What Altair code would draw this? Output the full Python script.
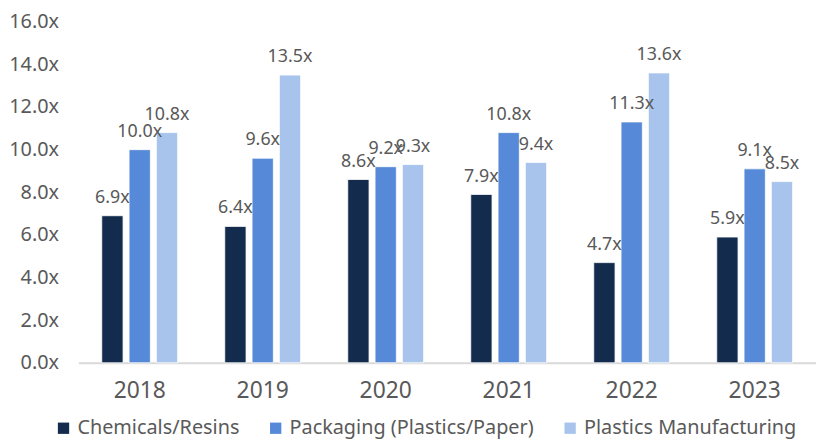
import altair as alt
import pandas as pd

years = ["2018", "2019", "2020", "2021", "2022", "2023"]
series = ["Chemicals/Resins", "Packaging (Plastics/Paper)", "Plastics Manufacturing"]
chemicals = [6.9, 6.4, 8.6, 7.9, 4.7, 5.9]
packaging = [10.0, 9.6, 9.2, 10.8, 11.3, 9.1]
plastics = [10.8, 13.5, 9.3, 9.4, 13.6, 8.5]
colors = ["#132B4D", "#568AD8", "#A8C4EC"]

rows = []
for s, vals in zip(series, [chemicals, packaging, plastics]):
    for y, v in zip(years, vals):
        rows.append({"year": y, "series": s, "value": v, "label": f"{v:.1f}x"})
df = pd.DataFrame(rows)

FONT = "Noto Sans"
GRAY = "#595959"

x = alt.X("year:N", sort=years, title=None,
          scale=alt.Scale(paddingInner=0.383, paddingOuter=0.19),
          axis=alt.Axis(labelAngle=0, labelFontSize=23, labelColor=GRAY, labelFont=FONT,
                        labelPadding=17, ticks=False, domainColor="#D9D9D9", domainWidth=2))
xoff = alt.XOffset("series:N", sort=series,
                   scale=alt.Scale(paddingInner=0.22, paddingOuter=0))
y = alt.Y("value:Q", title=None,
          scale=alt.Scale(domain=[0, 16]),
          axis=alt.Axis(values=[0, 2, 4, 6, 8, 10, 12, 14, 16],
                        labelExpr="format(datum.value, '.1f') + 'x'",
                        labelFontSize=20, labelColor=GRAY, labelFont=FONT,
                        labelPadding=20, ticks=False, domain=False, grid=False))
color = alt.Color("series:N", sort=series, title=None,
                  scale=alt.Scale(domain=series, range=colors),
                  legend=alt.Legend(orient="none", direction="horizontal",
                                    legendX=-25, legendY=400,
                                    symbolType="square", symbolSize=130, symbolStrokeWidth=0,
                                    labelFontSize=20, labelColor=GRAY, labelFont=FONT,
                                    labelLimit=0,
                                    columnPadding=26, symbolOffset=0, labelOffset=4,
                                    padding=0))

base = alt.Chart(df).encode(x=x, xOffset=xoff, y=y)

bars = base.mark_bar(stroke="white", strokeWidth=0.8).encode(color=color)
labels = base.mark_text(baseline="alphabetic", dy=-13, fontSize=18, font=FONT, color=GRAY).encode(
    text="label:N")

chart = (bars + labels).properties(
    width=744, height=344,
    padding={"left": 0, "top": 2, "right": 0, "bottom": 0},
).configure_view(stroke=None)

chart.save("out.html", embed_options={"renderer": "svg", "actions": False})
